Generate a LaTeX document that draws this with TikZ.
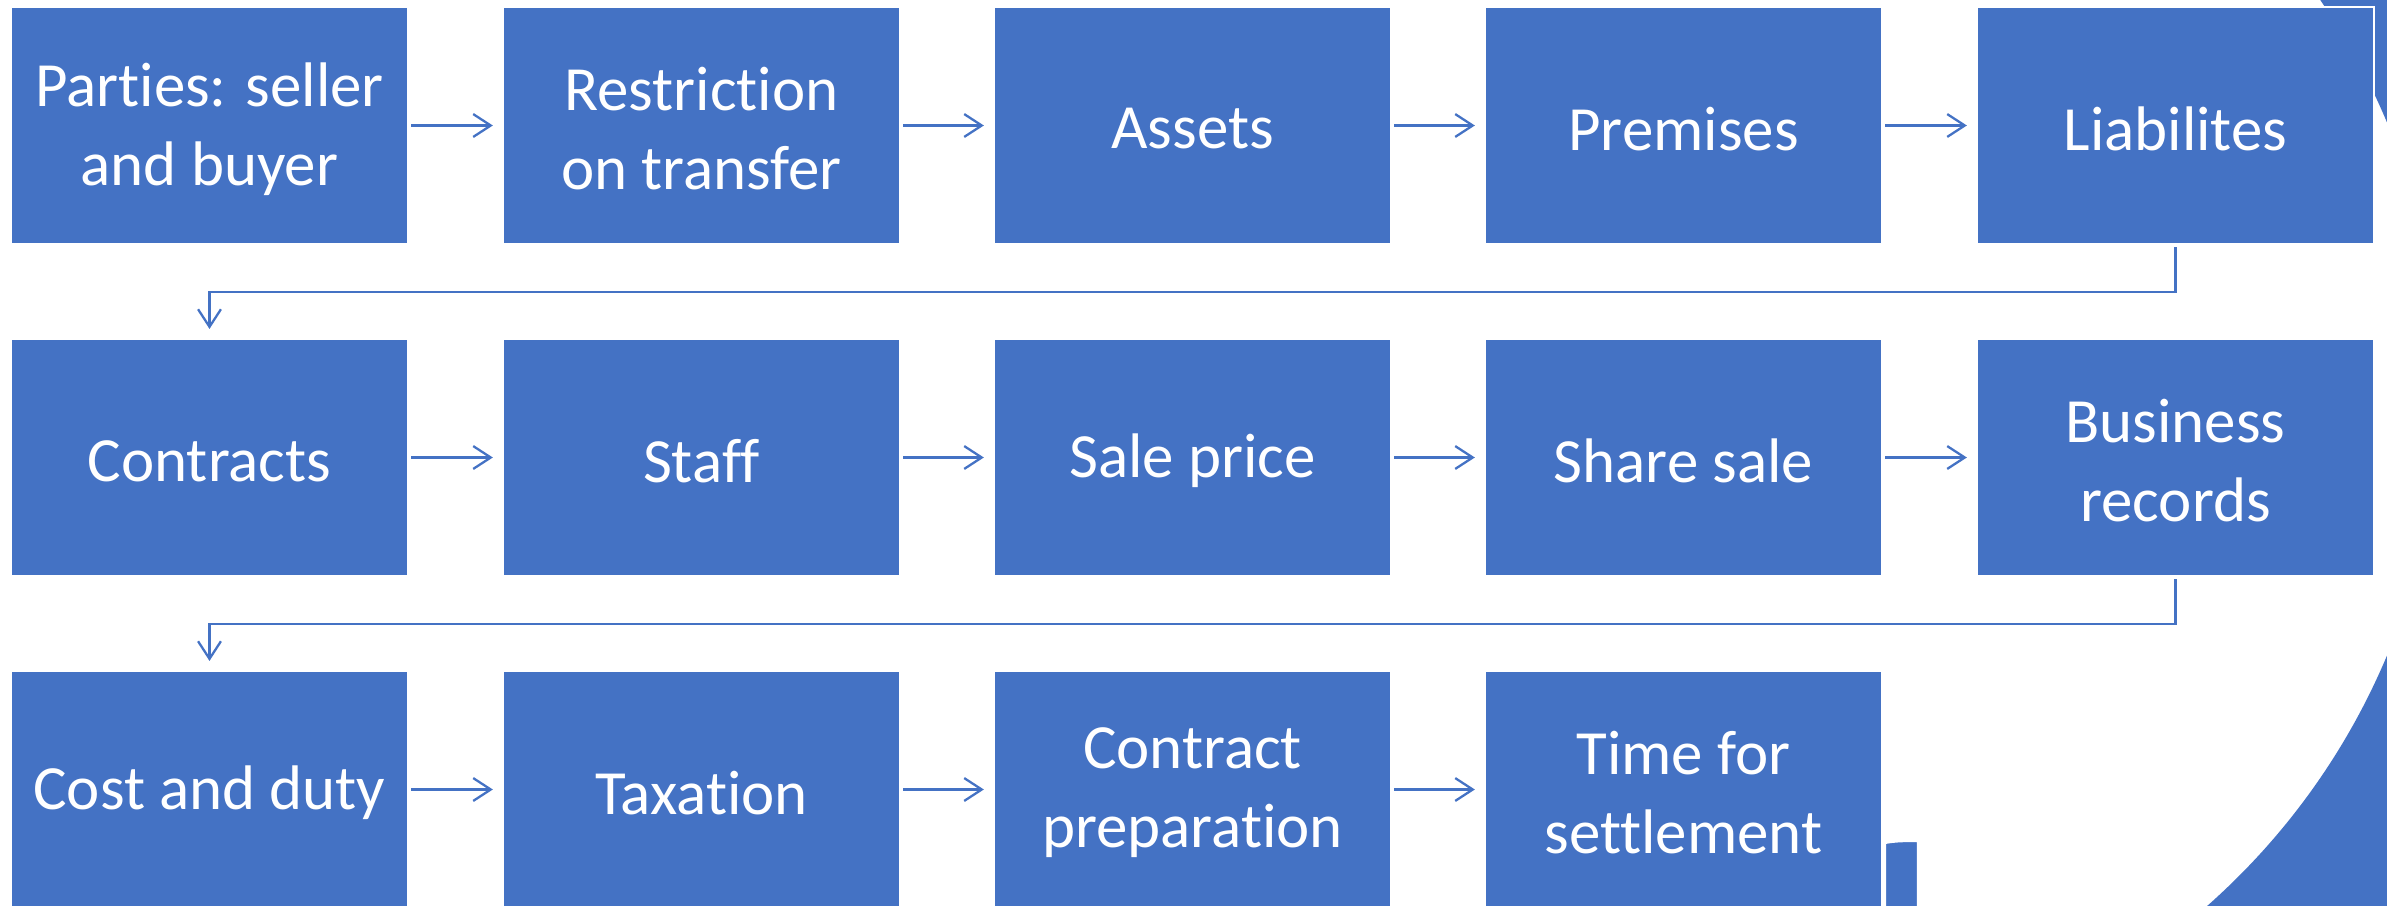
\documentclass[tikz,border=0pt]{standalone}
\usepackage{fontspec}
\setmainfont[Ligatures=NoCommon]{Carlito}
\usetikzlibrary{arrows.meta}
\definecolor{boxblue}{HTML}{4472C4}
\begin{document}
\begin{tikzpicture}[x=0.01cm,y=-0.01cm,
  steptext/.style={align=center, text=white, inner sep=0pt,
    font=\fontsize{17.9}{22.5}\selectfont, yshift=-0.035cm},
  stepbox/.style={rectangle, fill=boxblue, draw=white, line width=0.6pt,
    minimum width=3.97cm, minimum height=2.37cm, inner sep=0pt, outer sep=0pt,
    label={[steptext]center:#1}},
  flow/.style={draw=boxblue, line width=0.65pt,
    -{Straight Barb[length=5pt,width=6.5pt]},
    shorten <=0.03cm, shorten >=0.1cm}]
\useasboundingbox (0,0) rectangle (2387,906);

% large ring segment at the right edge, behind the grid
\begin{scope}
  \clip (2000,0) rectangle (2387,906);
  \fill[boxblue, even odd rule] (1751,389) circle[radius=8.3cm]
                                (1751,389) circle[radius=6.89cm];
\end{scope}
\begin{scope}
  \clip (0,0) rectangle (2387,906);
  \fill[boxblue, draw=white, line width=0.6pt]
    (1885,843) .. controls (1895,841) and (1906,841) .. (1918,841)
    -- (1918,912) -- (1885,912) -- cycle;
\end{scope}

% row 1
\node[stepbox={Parties: seller\\and buyer}] (p1) at (209.5,125.5) {};
\node[stepbox={Restriction\\on transfer}] (p2) at (701.5,125.5) {};
\node[stepbox={Assets}] (p3) at (1192.5,125.5) {};
\node[stepbox={Premises}] (p4) at (1683.5,125.5) {};
\node[stepbox={Liabilites}] (p5) at (2175.5,125.5) {};
% row 2
\node[stepbox={Contracts}] (p6) at (209.5,457.5) {};
\node[stepbox={Staff}] (p7) at (701.5,457.5) {};
\node[stepbox={Sale price}] (p8) at (1192.5,457.5) {};
\node[stepbox={Share sale}] (p9) at (1683.5,457.5) {};
\node[stepbox={Business\\records}] (p10) at (2175.5,457.5) {};
% row 3
\node[stepbox={Cost and duty}] (p11) at (209.5,789.5) {};
\node[stepbox={Taxation}] (p12) at (701.5,789.5) {};
\node[stepbox={Contract\\preparation}] (p13) at (1192.5,789.5) {};
\node[stepbox={Time for\\settlement}] (p14) at (1683.5,789.5) {};

% connectors
\draw[flow] (p1) -- (p2);
\draw[flow] (p2) -- (p3);
\draw[flow] (p3) -- (p4);
\draw[flow] (p4) -- (p5);
\draw[flow] (p5.south) -- ++(0,48) -| (p6.north);
\draw[flow] (p6) -- (p7);
\draw[flow] (p7) -- (p8);
\draw[flow] (p8) -- (p9);
\draw[flow] (p9) -- (p10);
\draw[flow] (p10.south) -- ++(0,48) -| (p11.north);
\draw[flow] (p11) -- (p12);
\draw[flow] (p12) -- (p13);
\draw[flow] (p13) -- (p14);
\end{tikzpicture}
\end{document}
